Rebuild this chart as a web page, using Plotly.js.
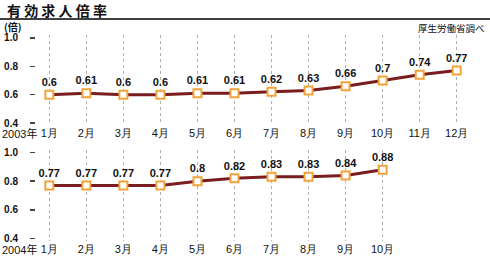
<!DOCTYPE html>
<html><head><meta charset="utf-8">
<script src="https://cdn.plot.ly/plotly-3.0.1.min.js"></script>
<style>html,body{margin:0;padding:0;background:#fff}#c{width:490px;height:260px}</style>
</head><body><div id="c"></div>
<script>
const months2003 = ['1月','2月','3月','4月','5月','6月','7月','8月','9月','10月','11月','12月'];
const values2003 = [0.6,0.61,0.6,0.6,0.61,0.61,0.62,0.63,0.66,0.7,0.74,0.77];
const months2004 = ['1月','2月','3月','4月','5月','6月','7月','8月','9月','10月'];
const values2004 = [0.77,0.77,0.77,0.77,0.8,0.82,0.83,0.83,0.84,0.88];
const yTicks = [0.4,0.6,0.8,1.0];
const yTickText = ['0.4','0.6','0.8','1.0'];
const title = '有 効 求 人 倍 率';
const unit = '(倍)';
const source = '厚生労働省調べ';
const years = ['2003年','2004年'];

const idx = a => a.map((_, i) => i);
const lineColor = '#7a1d1f';
const mk = {symbol:'square', size:8, color:'#ffffff', line:{color:'#f2a33a', width:2}};
const fmt = v => String(v);

const traces = [
  {x: idx(values2003), y: values2003, xaxis:'x', yaxis:'y', mode:'lines+markers+text',
   line:{color:lineColor, width:3}, marker:mk, text: values2003.map(fmt), textposition:'top center',
   textfont:{family:'Liberation Sans, Arial, sans-serif', size:11, color:'#111', weight:'bold'},
   cliponaxis:false, hoverinfo:'none'},
  {x: idx(values2004), y: values2004, xaxis:'x2', yaxis:'y2', mode:'lines+markers+text',
   line:{color:lineColor, width:3}, marker:mk, text: values2004.map(fmt), textposition:'top center',
   textfont:{family:'Liberation Sans, Arial, sans-serif', size:11, color:'#111', weight:'bold'},
   cliponaxis:false, hoverinfo:'none'}
];

const xr = [-1.331, 11.899];
const xBase = {range:xr, domain:[0,1], showline:false, zeroline:false, ticks:'',
  showgrid:true, gridcolor:'#b0b0b0', griddash:'dot', gridwidth:1,
  tickfont:{family:'Liberation Sans, Arial, sans-serif', size:11, color:'#111'}};
const yBase = {range:[0.386,1.021], tickvals:yTicks, ticktext:yTickText, showgrid:false, zeroline:false,
  showline:false, ticks:'outside', ticklen:5, tickwidth:1.5, tickcolor:'#444',
  anchor:'free', position:35/490, ticklabelstandoff:10,
  tickfont:{family:'Liberation Sans, Arial, sans-serif', size:10, color:'#111', weight:'bold'}};

const layout = {
  width:490, height:260, margin:{l:0,r:0,t:0,b:0}, showlegend:false,
  paper_bgcolor:'#fff', plot_bgcolor:'rgba(0,0,0,0)',
  xaxis: Object.assign({}, xBase, {anchor:'y', tickvals: idx(months2003), ticktext: months2003}),
  xaxis2: Object.assign({}, xBase, {anchor:'y2', tickvals: idx(months2004), ticktext: months2004}),
  yaxis: Object.assign({}, yBase, {domain:[0.5192, 0.8654]}),
  yaxis2: Object.assign({}, yBase, {domain:[0.075, 0.425]}),
  shapes:[{type:'line', xref:'paper', yref:'paper', x0:0, x1:1, y0:1-19/260, y1:1-19/260,
           line:{color:'#000', width:1.5}}],
  annotations:[
    {text:title, xref:'paper', yref:'paper', x:5/490, y:1-10/260, xanchor:'left', yanchor:'middle',
     showarrow:false, font:{family:'Noto Sans CJK JP, sans-serif', size:14, color:'#111', weight:'bold'}},
    {text:unit, xref:'paper', yref:'paper', x:2/490, y:1-27/260, xanchor:'left', yanchor:'middle',
     showarrow:false, font:{family:'Noto Sans CJK JP, sans-serif', size:10, color:'#111', weight:'bold'}},
    {text:source, xref:'paper', yref:'paper', x:487/490, y:1-28/260, xanchor:'right', yanchor:'middle',
     showarrow:false, font:{family:'Noto Sans CJK JP, sans-serif', size:9.5, color:'#111'}},
    {text:years[0], xref:'paper', yref:'paper', x:39/490, y:1-133/260, xanchor:'right', yanchor:'middle',
     showarrow:false, font:{family:'Liberation Sans, Noto Sans CJK JP, sans-serif', size:11, color:'#111'}},
    {text:years[1], xref:'paper', yref:'paper', x:39/490, y:1-249/260, xanchor:'right', yanchor:'middle',
     showarrow:false, font:{family:'Liberation Sans, Noto Sans CJK JP, sans-serif', size:11, color:'#111'}}
  ]
};
Plotly.newPlot('c', traces, layout, {staticPlot:true, displayModeBar:false});
</script></body></html>
